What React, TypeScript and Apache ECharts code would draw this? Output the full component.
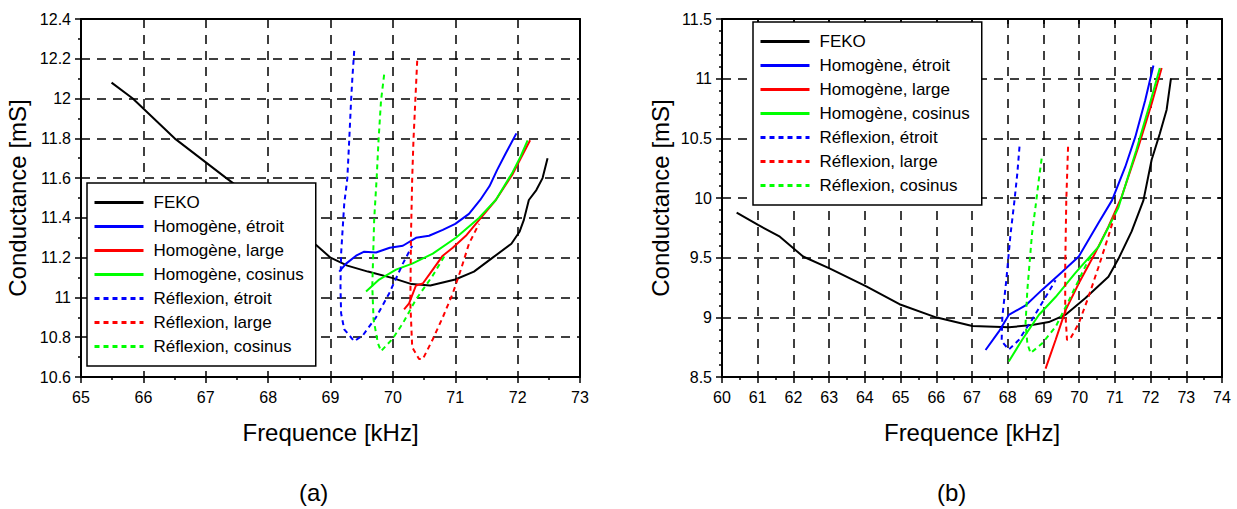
import React, { useEffect, useRef } from "react";
import * as echarts from "echarts";

// ---------- Names ----------
const seriesNames = [
  "FEKO",
  "Homogène, étroit",
  "Homogène, large",
  "Homogène, cosinus",
  "Réflexion, étroit",
  "Réflexion, large",
  "Réflexion, cosinus",
];
const seriesColors = ["#000000", "#0000ff", "#ff0000", "#00ff00", "#0000ff", "#ff0000", "#00ff00"];
const seriesDashed = [false, false, false, false, true, true, true];

// ---------- Plot (a) ----------
const fekoA = [[65.49,12.08],[65.83,12.0],[66.5,11.8],[67.33,11.6],[67.8,11.49],[68.3,11.37],[68.77,11.264],[69.0,11.2],[69.27,11.16],[69.6,11.13],[70.0,11.097],[70.3,11.067],[70.6,11.06],[71.0,11.09],[71.3,11.13],[71.6,11.2],[71.9,11.27],[72.03,11.33],[72.1,11.39],[72.18,11.49],[72.3,11.54],[72.4,11.6],[72.48,11.7]];
const homEtroitA = [[69.14,11.13],[69.25,11.17],[69.41,11.21],[69.54,11.23],[69.73,11.226],[69.95,11.25],[70.16,11.26],[70.37,11.3],[70.58,11.31],[70.8,11.34],[71.0,11.37],[71.22,11.42],[71.4,11.49],[71.55,11.56],[71.67,11.64],[71.81,11.725],[71.98,11.825]];
const homLargeA = [[70.18,10.94],[70.26,10.97],[70.37,11.06],[70.48,11.07],[70.64,11.14],[70.8,11.21],[70.96,11.25],[71.17,11.31],[71.41,11.4],[71.65,11.49],[71.92,11.62],[72.05,11.7],[72.2,11.79]];
const homCosA = [[69.57,11.03],[69.78,11.09],[70.05,11.14],[70.31,11.17],[70.64,11.22],[71.01,11.3],[71.38,11.4],[71.65,11.49],[71.92,11.63],[72.05,11.71],[72.16,11.79]];
const refEtroitA = [[69.38,12.24],[69.35,12.1],[69.33,11.99],[69.3,11.79],[69.27,11.6],[69.22,11.47],[69.17,11.22],[69.16,11.055],[69.17,10.92],[69.22,10.84],[69.38,10.78],[69.52,10.81],[69.73,10.9],[69.94,11.02],[70.16,11.17],[70.31,11.26]];
const refLargeA = [[70.39,12.19],[70.36,11.99],[70.33,11.79],[70.31,11.6],[70.29,11.31],[70.28,10.97],[70.31,10.75],[70.42,10.69],[70.48,10.69],[70.64,10.79],[70.8,10.9],[70.96,11.02],[71.09,11.14],[71.22,11.27],[71.38,11.37]];
const refCosA = [[69.86,12.12],[69.81,11.99],[69.77,11.79],[69.74,11.6],[69.7,11.39],[69.67,11.055],[69.69,10.89],[69.76,10.77],[69.81,10.73],[69.99,10.79],[70.16,10.87],[70.37,10.99],[70.64,11.11],[70.85,11.22]];

// ---------- Plot (b) ----------
const fekoB = [[60.41,9.877],[61.01,9.774],[61.62,9.676],[62.27,9.51],[63.01,9.41],[64.04,9.26],[64.97,9.11],[65.99,9.0],[67.01,8.927],[68.03,8.916],[68.68,8.936],[69.15,8.96],[69.61,9.02],[70.17,9.16],[70.82,9.34],[71.1,9.49],[71.47,9.72],[71.8,9.98],[72.03,10.32],[72.26,10.54],[72.45,10.74],[72.57,11.0]];
const homEtroitB = [[67.38,8.726],[67.75,8.88],[68.03,9.02],[68.5,9.1],[68.96,9.23],[69.52,9.38],[69.99,9.51],[70.54,9.79],[70.92,9.98],[71.29,10.26],[71.57,10.51],[71.85,10.82],[72.08,11.11]];
const homLargeB = [[69.06,8.57],[69.34,8.81],[69.62,9.06],[69.99,9.285],[70.45,9.54],[70.82,9.76],[71.19,10.01],[71.66,10.43],[72.03,10.79],[72.31,11.09]];
const homCosB = [[68.03,8.63],[68.4,8.81],[68.87,9.02],[69.34,9.17],[69.89,9.37],[70.54,9.59],[71.1,9.92],[71.6,10.4],[71.98,10.79],[72.26,11.09]];
const refEtroitB = [[68.33,10.43],[68.27,10.21],[68.19,9.98],[68.08,9.7],[67.96,9.31],[67.85,9.005],[67.83,8.8],[68.03,8.73],[68.31,8.81],[68.68,8.98],[68.96,9.12],[69.34,9.31]];
const refLargeB = [[69.69,10.43],[69.64,9.98],[69.61,9.42],[69.61,9.06],[69.66,8.81],[69.75,8.82],[69.99,8.95],[70.26,9.17],[70.54,9.42],[70.82,9.68],[71.01,9.87]];
const refCosB = [[68.95,10.33],[68.87,10.15],[68.78,9.93],[68.68,9.7],[68.55,9.23],[68.5,8.95],[68.55,8.78],[68.64,8.7],[68.96,8.78],[69.34,8.92],[69.71,9.14],[70.08,9.37],[70.36,9.54]];

const dataA = [fekoA, homEtroitA, homLargeA, homCosA, refEtroitA, refLargeA, refCosA];
const dataB = [fekoB, homEtroitB, homLargeB, homCosB, refEtroitB, refLargeB, refCosB];

// ---------- Axes ----------
const xRangeA = [65, 73];
const yRangeA = [10.6, 12.4];
const yStepA = 0.2;
const xRangeB = [60, 74];
const yRangeB = [8.5, 11.5];
const yStepB = 0.5;
const xTitle = "Frequence [kHz]";
const yTitle = "Conductance [mS]";
const panelLabels = ["(a)", "(b)"];

const FONT = "'Liberation Sans', Arial, sans-serif";

export default function App() {
  const ref = useRef<HTMLDivElement>(null);
  useEffect(() => {
    if (!ref.current) return;
    const chart = echarts.init(ref.current, null, { renderer: "svg" });

    const dashedGrid = { show: true, lineStyle: { color: "#000", type: [9, 7], width: 1.5 } };
    const axisLine = { show: true, onZero: false, lineStyle: { color: "#000", width: 2 } };
    const label = { color: "#000", fontSize: 16, fontFamily: FONT };
    const nameStyle = { color: "#000", fontSize: 24, fontFamily: FONT };

    const mkBottomX = (grid: number, r: number[], nameGap: number) => ({
      type: "value", gridIndex: grid, min: r[0], max: r[1], interval: 1, position: "bottom",
      axisLine, axisTick: { show: true, length: 6, inside: false, lineStyle: { color: "#000", width: 1.5 } },
      minorTick: { show: true, splitNumber: 2, length: 3, lineStyle: { color: "#000", width: 1.5 } },
      axisLabel: { ...label, margin: 12 }, splitLine: dashedGrid,
      name: xTitle, nameLocation: "middle", nameGap, nameTextStyle: nameStyle,
    });
    const mkTopX = (grid: number, r: number[], ticks: boolean) => ({
      type: "value", gridIndex: grid, min: r[0], max: r[1], interval: 1, position: "top",
      axisLine, axisTick: { show: ticks, inside: true, length: 5, lineStyle: { color: "#000", width: 1.5 } },
      axisLabel: { show: false }, splitLine: { show: false },
    });
    const mkLeftY = (grid: number, r: number[], step: number, minor: number, nameGap: number) => ({
      type: "value", gridIndex: grid, min: r[0], max: r[1], interval: step, position: "left",
      axisLine, axisTick: { show: true, length: 6, lineStyle: { color: "#000", width: 1.5 } },
      minorTick: { show: true, splitNumber: minor, length: 3, lineStyle: { color: "#000", width: 1.5 } },
      axisLabel: { ...label, margin: 10, formatter: (v: number) => String(Math.round(v * 10) / 10) },
      splitLine: dashedGrid,
      name: yTitle, nameLocation: "middle", nameGap, nameRotate: 90, nameTextStyle: nameStyle,
    });
    const mkRightY = (grid: number, r: number[], step: number, ticks: boolean) => ({
      type: "value", gridIndex: grid, min: r[0], max: r[1], interval: step, position: "right",
      axisLine, axisTick: { show: ticks, inside: true, length: 5, lineStyle: { color: "#000", width: 1.5 } },
      axisLabel: { show: false }, splitLine: { show: false },
    });

    const series: any[] = [];
    [dataA, dataB].forEach((set, p) => {
      set.forEach((d, i) => {
        series.push({
          type: "line",
          name: seriesNames[i],
          xAxisIndex: p * 2,
          yAxisIndex: p * 2,
          data: d,
          showSymbol: false,
          symbol: "none",
          smooth: false,
          z: 3,
          lineStyle: {
            color: seriesColors[i],
            width: 2,
            type: seriesDashed[i] ? [5, 4] : "solid",
          },
          itemStyle: { color: seriesColors[i] },
        });
      });
    });

    const legendBase = {
      orient: "vertical",
      data: seriesNames,
      itemWidth: 49,
      itemHeight: 18,
      itemGap: 7,
      backgroundColor: "#fff",
      borderColor: "#000",
      borderWidth: 1.5,
      borderRadius: 0,
      padding: [11, 12, 11, 6],
      itemStyle: { opacity: 0, color: "transparent", borderWidth: 0 },
      lineStyle: { width: 3 },
      textStyle: { color: "#000", fontSize: 17, fontFamily: FONT, padding: [0, 0, 0, 5] },
      selectedMode: false,
      z: 10,
    };

    chart.setOption({
      animation: false,
      backgroundColor: "#fff",
      grid: [
        { left: 81, top: 19, width: 499, height: 358, containLabel: false },
        { left: 722, top: 19, width: 500, height: 358, containLabel: false },
      ],
      xAxis: [
        mkBottomX(0, xRangeA, 43),
        mkTopX(0, xRangeA, false),
        mkBottomX(1, xRangeB, 43),
        mkTopX(1, xRangeB, true),
      ],
      yAxis: [
        mkLeftY(0, yRangeA, yStepA, 2, 52),
        mkRightY(0, yRangeA, yStepA, false),
        mkLeftY(1, yRangeB, yStepB, 5, 50),
        mkRightY(1, yRangeB, yStepB, true),
      ],
      legend: [
        { ...legendBase, left: 87, top: 183 },
        { ...legendBase, left: 753, top: 22 },
      ],
      graphic: [
        { type: "text", left: 313 - 14, top: 480, style: { text: panelLabels[0], fill: "#000", font: `24px ${FONT}` } },
        { type: "text", left: 951 - 14, top: 480, style: { text: panelLabels[1], fill: "#000", font: `24px ${FONT}` } },
      ],
      series,
    });

    return () => chart.dispose();
  }, []);

  return (
    <div
      ref={ref}
      style={{ position: "absolute", left: 0, top: 0, width: 1237, height: 509, background: "#fff" }}
    />
  );
}
